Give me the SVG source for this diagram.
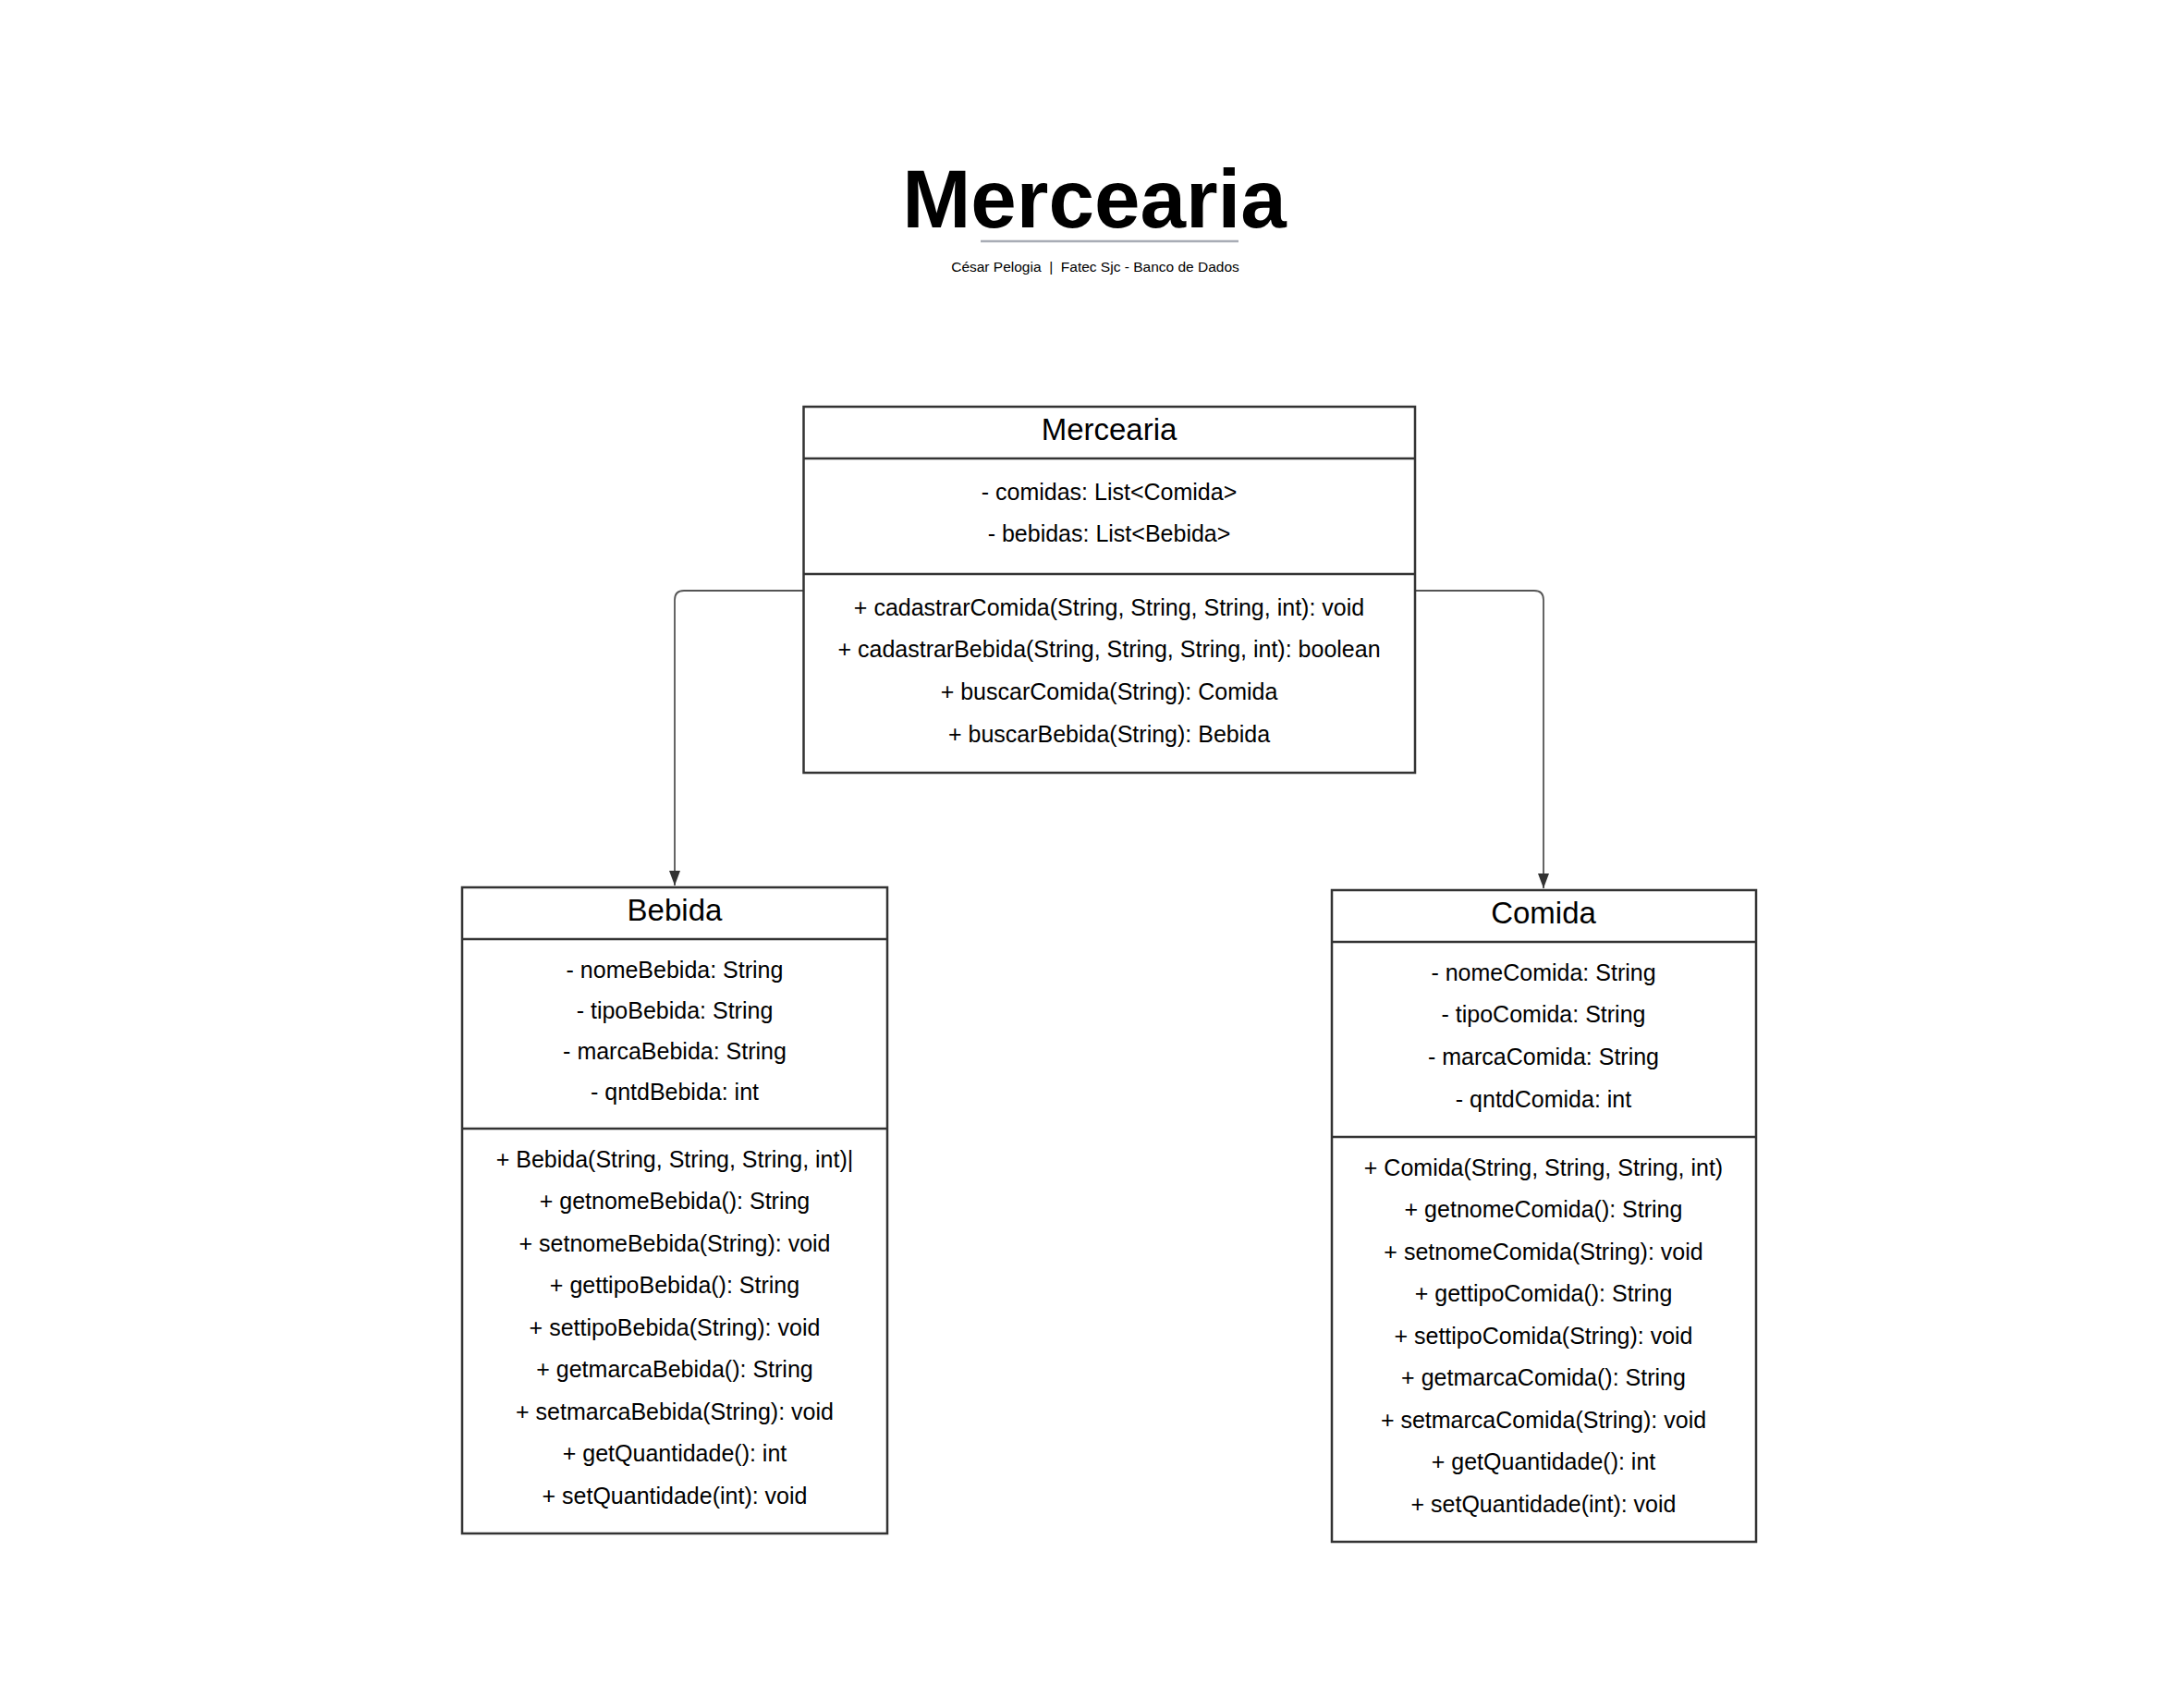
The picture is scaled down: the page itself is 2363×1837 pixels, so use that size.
<svg xmlns="http://www.w3.org/2000/svg" width="2363" height="1837" viewBox="0 0 2363 1837">
<style>
.box{fill:#fff;stroke:#333;stroke-width:2.5}
.div{stroke:#333;stroke-width:2.5}
.t{font-family:"Liberation Sans",Arial,sans-serif;font-size:25px;fill:#000;text-anchor:middle;dominant-baseline:central}
.h{font-family:"Liberation Sans",Arial,sans-serif;font-size:33px;fill:#000;text-anchor:middle;dominant-baseline:central}
.conn{fill:none;stroke:#555;stroke-width:1.8}
</style>
<defs>
<marker id="arr" markerWidth="14" markerHeight="18" refX="7" refY="17" orient="0" markerUnits="userSpaceOnUse" viewBox="0 0 14 18">
<path d="M1,1 L13,1 L7,17 Z" fill="#333"/>
</marker>
</defs>
<rect width="2363" height="1837" fill="#fff"/>
<g id="title">
<text x="1184" y="246" font-family="Liberation Sans, Arial, sans-serif" font-size="89" font-weight="bold" text-anchor="middle">Mercearia</text>
<line x1="1061" y1="261" x2="1340" y2="261" stroke="#a8acb5" stroke-width="2.5"/>
<text x="1185" y="288" class="t" style="font-size:15.5px" xml:space="preserve">César Pelogia  |  Fatec Sjc - Banco de Dados</text>
</g>
<g id="connectors">
<path class="conn" d="M869.5,639 H740 Q730,639 730,649 V958" marker-end="url(#arr)"/>
<path class="conn" d="M1531,639 H1660 Q1670,639 1670,649 V961" marker-end="url(#arr)"/>
</g>
<g id="mercearia">
<rect class="box" x="869.5" y="440" width="661.5" height="396"/>
<line class="div" x1="869.5" y1="496" x2="1531" y2="496"/>
<line class="div" x1="869.5" y1="621" x2="1531" y2="621"/>
<text class="h" x="1200" y="464">Mercearia</text>
<text class="t" x="1200" y="532">- comidas: List&lt;Comida&gt;</text>
<text class="t" x="1200" y="577">- bebidas: List&lt;Bebida&gt;</text>
<text class="t" x="1200" y="657">+ cadastrarComida(String, String, String, int): void</text>
<text class="t" x="1200" y="702">+ cadastrarBebida(String, String, String, int): boolean</text>
<text class="t" x="1200" y="748">+ buscarComida(String): Comida</text>
<text class="t" x="1200" y="794">+ buscarBebida(String): Bebida</text>
</g>
<g id="bebida">
<rect class="box" x="500" y="960" width="460" height="699"/>
<line class="div" x1="500" y1="1016" x2="960" y2="1016"/>
<line class="div" x1="500" y1="1221" x2="960" y2="1221"/>
<text class="h" x="730" y="984">Bebida</text>
<text class="t" x="730" y="1049">- nomeBebida: String</text>
<text class="t" x="730" y="1093">- tipoBebida: String</text>
<text class="t" x="730" y="1137">- marcaBebida: String</text>
<text class="t" x="730" y="1181">- qntdBebida: int</text>
<text class="t" x="730" y="1254">+ Bebida(String, String, String, int)|</text>
<text class="t" x="730" y="1299">+ getnomeBebida(): String</text>
<text class="t" x="730" y="1345">+ setnomeBebida(String): void</text>
<text class="t" x="730" y="1390">+ gettipoBebida(): String</text>
<text class="t" x="730" y="1436">+ settipoBebida(String): void</text>
<text class="t" x="730" y="1481">+ getmarcaBebida(): String</text>
<text class="t" x="730" y="1527">+ setmarcaBebida(String): void</text>
<text class="t" x="730" y="1572">+ getQuantidade(): int</text>
<text class="t" x="730" y="1618">+ setQuantidade(int): void</text>
</g>
<g id="comida">
<rect class="box" x="1441" y="963" width="459" height="705"/>
<line class="div" x1="1441" y1="1019" x2="1900" y2="1019"/>
<line class="div" x1="1441" y1="1230" x2="1900" y2="1230"/>
<text class="h" x="1670" y="987">Comida</text>
<text class="t" x="1670" y="1052">- nomeComida: String</text>
<text class="t" x="1670" y="1097">- tipoComida: String</text>
<text class="t" x="1670" y="1143">- marcaComida: String</text>
<text class="t" x="1670" y="1189">- qntdComida: int</text>
<text class="t" x="1670" y="1263">+ Comida(String, String, String, int)</text>
<text class="t" x="1670" y="1308">+ getnomeComida(): String</text>
<text class="t" x="1670" y="1354">+ setnomeComida(String): void</text>
<text class="t" x="1670" y="1399">+ gettipoComida(): String</text>
<text class="t" x="1670" y="1445">+ settipoComida(String): void</text>
<text class="t" x="1670" y="1490">+ getmarcaComida(): String</text>
<text class="t" x="1670" y="1536">+ setmarcaComida(String): void</text>
<text class="t" x="1670" y="1581">+ getQuantidade(): int</text>
<text class="t" x="1670" y="1627">+ setQuantidade(int): void</text>
</g>
</svg>
